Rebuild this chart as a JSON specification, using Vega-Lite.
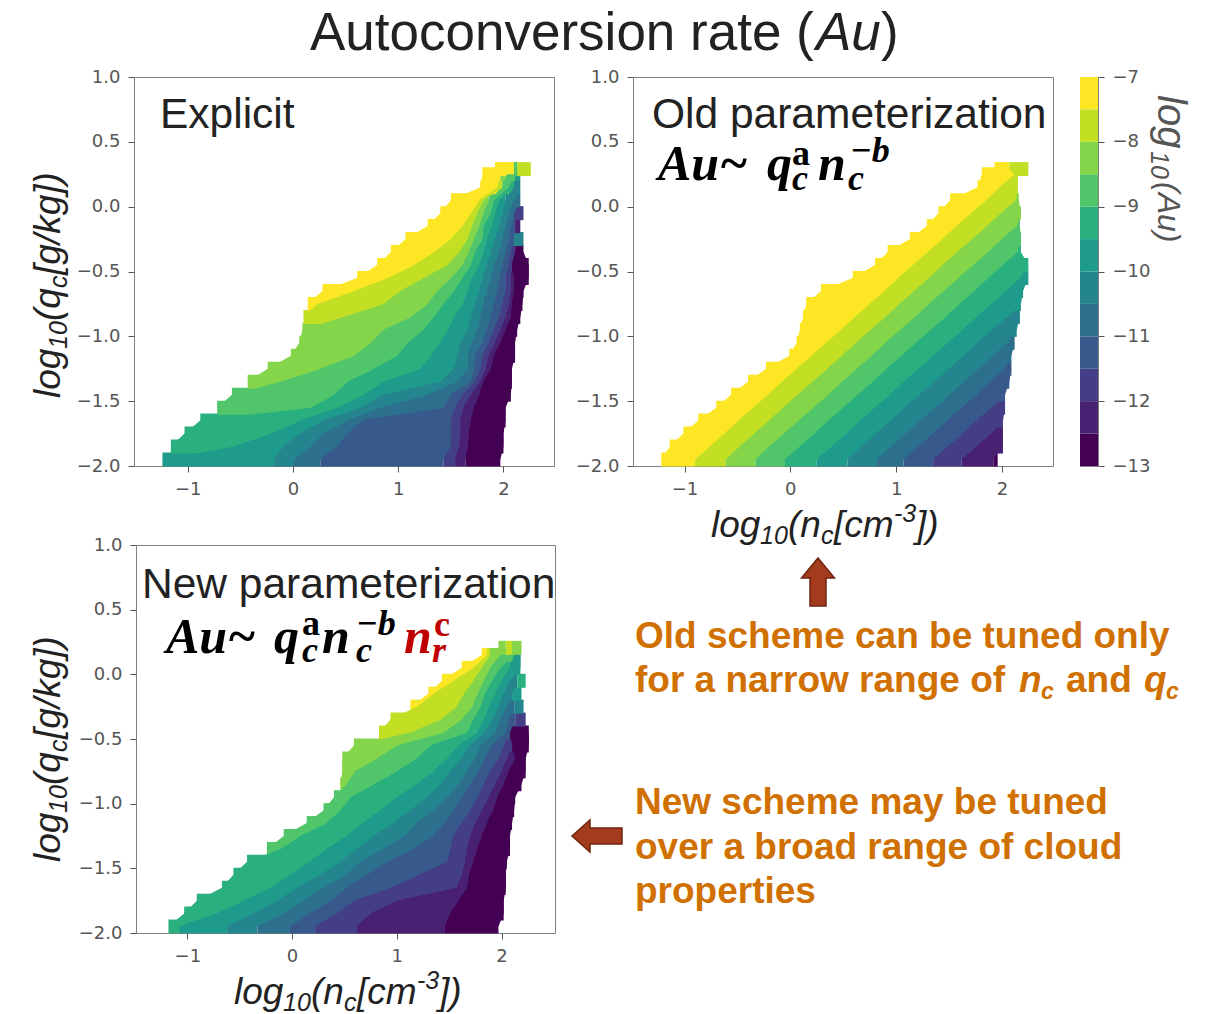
{"$schema":"https://vega.github.io/schema/vega-lite/v6.json","padding":{"left":30,"top":8,"right":0,"bottom":0},"background":"white","bounds":"flush","spacing":468,"config":{"view":{"stroke":"#808080"},"axis":{"grid":false,"title":null,"labelFont":"DejaVu Sans","labelFontSize":18,"labelColor":"#555","tickColor":"#555","tickSize":6,"labelPadding":8,"domain":false}},
"datasets":{"p1":[
{"q":-1.95,"a":-1.24,"b":-0.18,"v":-10},{"q":-1.95,"a":-0.18,"b":0.01,"v":-10.5},{"q":-1.95,"a":0.01,"b":0.26,"v":-11},{"q":-1.95,"a":0.26,"b":1.43,"v":-11.5},{"q":-1.95,"a":1.43,"b":1.54,"v":-12},{"q":-1.95,"a":1.54,"b":1.64,"v":-12.5},{"q":-1.95,"a":1.64,"b":1.97,"v":-13},
{"q":-1.85,"a":-1.16,"b":-0.56,"v":-9.5},{"q":-1.85,"a":-0.56,"b":-0.09,"v":-10},{"q":-1.85,"a":-0.09,"b":0.17,"v":-10.5},{"q":-1.85,"a":0.17,"b":0.42,"v":-11},{"q":-1.85,"a":0.42,"b":1.5,"v":-11.5},{"q":-1.85,"a":1.5,"b":1.58,"v":-12},{"q":-1.85,"a":1.58,"b":1.66,"v":-12.5},{"q":-1.85,"a":1.66,"b":2,"v":-13},
{"q":-1.75,"a":-1.03,"b":-0.21,"v":-9.5},{"q":-1.75,"a":-0.21,"b":0.07,"v":-10},{"q":-1.75,"a":0.07,"b":0.29,"v":-10.5},{"q":-1.75,"a":0.29,"b":0.52,"v":-11},{"q":-1.75,"a":0.52,"b":1.5,"v":-11.5},{"q":-1.75,"a":1.5,"b":1.59,"v":-12},{"q":-1.75,"a":1.59,"b":1.67,"v":-12.5},{"q":-1.75,"a":1.67,"b":2,"v":-13},
{"q":-1.65,"a":-0.88,"b":0.07,"v":-9.5},{"q":-1.65,"a":0.07,"b":0.29,"v":-10},{"q":-1.65,"a":0.29,"b":0.52,"v":-10.5},{"q":-1.65,"a":0.52,"b":0.66,"v":-11},{"q":-1.65,"a":0.66,"b":1.5,"v":-11.5},{"q":-1.65,"a":1.5,"b":1.59,"v":-12},{"q":-1.65,"a":1.59,"b":1.69,"v":-12.5},{"q":-1.65,"a":1.69,"b":2.02,"v":-13},
{"q":-1.55,"a":-0.72,"b":0.17,"v":-9},{"q":-1.55,"a":0.17,"b":0.42,"v":-9.5},{"q":-1.55,"a":0.42,"b":0.64,"v":-10},{"q":-1.55,"a":0.64,"b":0.83,"v":-10.5},{"q":-1.55,"a":0.83,"b":1.43,"v":-11},{"q":-1.55,"a":1.43,"b":1.54,"v":-11.5},{"q":-1.55,"a":1.54,"b":1.62,"v":-12},{"q":-1.55,"a":1.62,"b":1.72,"v":-12.5},{"q":-1.55,"a":1.72,"b":2.02,"v":-13},
{"q":-1.45,"a":-0.58,"b":0.39,"v":-9},{"q":-1.45,"a":0.39,"b":0.67,"v":-9.5},{"q":-1.45,"a":0.67,"b":0.86,"v":-10},{"q":-1.45,"a":0.86,"b":1.28,"v":-10.5},{"q":-1.45,"a":1.28,"b":1.5,"v":-11},{"q":-1.45,"a":1.5,"b":1.61,"v":-11.5},{"q":-1.45,"a":1.61,"b":1.69,"v":-12},{"q":-1.45,"a":1.69,"b":1.77,"v":-12.5},{"q":-1.45,"a":1.77,"b":2.07,"v":-13},
{"q":-1.35,"a":-0.43,"b":-0.12,"v":-8.5},{"q":-1.35,"a":-0.12,"b":0.52,"v":-9},{"q":-1.35,"a":0.52,"b":0.86,"v":-9.5},{"q":-1.35,"a":0.86,"b":1.4,"v":-10},{"q":-1.35,"a":1.4,"b":1.56,"v":-10.5},{"q":-1.35,"a":1.56,"b":1.69,"v":-11},{"q":-1.35,"a":1.69,"b":1.73,"v":-11.5},{"q":-1.35,"a":1.73,"b":1.78,"v":-12},{"q":-1.35,"a":1.78,"b":1.81,"v":-12.5},{"q":-1.35,"a":1.81,"b":2.08,"v":-13},
{"q":-1.25,"a":-0.24,"b":0.26,"v":-8.5},{"q":-1.25,"a":0.26,"b":0.77,"v":-9},{"q":-1.25,"a":0.77,"b":1.21,"v":-9.5},{"q":-1.25,"a":1.21,"b":1.53,"v":-10},{"q":-1.25,"a":1.53,"b":1.66,"v":-10.5},{"q":-1.25,"a":1.66,"b":1.72,"v":-11},{"q":-1.25,"a":1.72,"b":1.78,"v":-11.5},{"q":-1.25,"a":1.78,"b":1.83,"v":-12},{"q":-1.25,"a":1.83,"b":1.88,"v":-12.5},{"q":-1.25,"a":1.88,"b":2.08,"v":-13},
{"q":-1.15,"a":-0.02,"b":0.58,"v":-8.5},{"q":-1.15,"a":0.58,"b":0.99,"v":-9},{"q":-1.15,"a":0.99,"b":1.31,"v":-9.5},{"q":-1.15,"a":1.31,"b":1.56,"v":-10},{"q":-1.15,"a":1.56,"b":1.66,"v":-10.5},{"q":-1.15,"a":1.66,"b":1.73,"v":-11},{"q":-1.15,"a":1.73,"b":1.8,"v":-11.5},{"q":-1.15,"a":1.8,"b":1.86,"v":-12},{"q":-1.15,"a":1.86,"b":1.91,"v":-12.5},{"q":-1.15,"a":1.91,"b":2.11,"v":-13},
{"q":-1.05,"a":0.06,"b":0.74,"v":-8.5},{"q":-1.05,"a":0.74,"b":1.09,"v":-9},{"q":-1.05,"a":1.09,"b":1.4,"v":-9.5},{"q":-1.05,"a":1.4,"b":1.59,"v":-10},{"q":-1.05,"a":1.59,"b":1.7,"v":-10.5},{"q":-1.05,"a":1.7,"b":1.8,"v":-11},{"q":-1.05,"a":1.8,"b":1.86,"v":-11.5},{"q":-1.05,"a":1.86,"b":1.92,"v":-12},{"q":-1.05,"a":1.92,"b":1.97,"v":-12.5},{"q":-1.05,"a":1.97,"b":2.11,"v":-13},
{"q":-0.95,"a":0.09,"b":0.86,"v":-8.5},{"q":-0.95,"a":0.86,"b":1.24,"v":-9},{"q":-0.95,"a":1.24,"b":1.47,"v":-9.5},{"q":-0.95,"a":1.47,"b":1.66,"v":-10},{"q":-0.95,"a":1.66,"b":1.75,"v":-10.5},{"q":-0.95,"a":1.75,"b":1.84,"v":-11},{"q":-0.95,"a":1.84,"b":1.91,"v":-11.5},{"q":-0.95,"a":1.91,"b":1.97,"v":-12},{"q":-0.95,"a":1.97,"b":2.02,"v":-12.5},{"q":-0.95,"a":2.02,"b":2.13,"v":-13},
{"q":-0.85,"a":0.1,"b":0.48,"v":-8},{"q":-0.85,"a":0.48,"b":1.12,"v":-8.5},{"q":-0.85,"a":1.12,"b":1.34,"v":-9},{"q":-0.85,"a":1.34,"b":1.53,"v":-9.5},{"q":-0.85,"a":1.53,"b":1.69,"v":-10},{"q":-0.85,"a":1.69,"b":1.78,"v":-10.5},{"q":-0.85,"a":1.78,"b":1.88,"v":-11},{"q":-0.85,"a":1.88,"b":1.96,"v":-11.5},{"q":-0.85,"a":1.96,"b":2.02,"v":-12},{"q":-0.85,"a":2.02,"b":2.07,"v":-12.5},{"q":-0.85,"a":2.07,"b":2.16,"v":-13},
{"q":-0.75,"a":0.14,"b":0.23,"v":-7.5},{"q":-0.75,"a":0.23,"b":0.86,"v":-8},{"q":-0.75,"a":0.86,"b":1.28,"v":-8.5},{"q":-0.75,"a":1.28,"b":1.43,"v":-9},{"q":-0.75,"a":1.43,"b":1.61,"v":-9.5},{"q":-0.75,"a":1.61,"b":1.73,"v":-10},{"q":-0.75,"a":1.73,"b":1.81,"v":-10.5},{"q":-0.75,"a":1.81,"b":1.91,"v":-11},{"q":-0.75,"a":1.91,"b":1.99,"v":-11.5},{"q":-0.75,"a":1.99,"b":2.05,"v":-12},{"q":-0.75,"a":2.05,"b":2.08,"v":-12.5},{"q":-0.75,"a":2.08,"b":2.18,"v":-13},
{"q":-0.65,"a":0.28,"b":0.58,"v":-7.5},{"q":-0.65,"a":0.58,"b":1.02,"v":-8},{"q":-0.65,"a":1.02,"b":1.37,"v":-8.5},{"q":-0.65,"a":1.37,"b":1.53,"v":-9},{"q":-0.65,"a":1.53,"b":1.66,"v":-9.5},{"q":-0.65,"a":1.66,"b":1.77,"v":-10},{"q":-0.65,"a":1.77,"b":1.84,"v":-10.5},{"q":-0.65,"a":1.84,"b":1.94,"v":-11},{"q":-0.65,"a":1.94,"b":2.02,"v":-11.5},{"q":-0.65,"a":2.02,"b":2.07,"v":-12},{"q":-0.65,"a":2.07,"b":2.1,"v":-12.5},{"q":-0.65,"a":2.1,"b":2.19,"v":-13},
{"q":-0.55,"a":0.61,"b":0.9,"v":-7.5},{"q":-0.55,"a":0.9,"b":1.24,"v":-8},{"q":-0.55,"a":1.24,"b":1.5,"v":-8.5},{"q":-0.55,"a":1.5,"b":1.61,"v":-9},{"q":-0.55,"a":1.61,"b":1.7,"v":-9.5},{"q":-0.55,"a":1.7,"b":1.8,"v":-10},{"q":-0.55,"a":1.8,"b":1.88,"v":-10.5},{"q":-0.55,"a":1.88,"b":1.96,"v":-11},{"q":-0.55,"a":1.96,"b":2.02,"v":-11.5},{"q":-0.55,"a":2.02,"b":2.07,"v":-12},{"q":-0.55,"a":2.07,"b":2.1,"v":-12.5},{"q":-0.55,"a":2.1,"b":2.24,"v":-13},
{"q":-0.45,"a":0.8,"b":1.15,"v":-7.5},{"q":-0.45,"a":1.15,"b":1.47,"v":-8},{"q":-0.45,"a":1.47,"b":1.61,"v":-8.5},{"q":-0.45,"a":1.61,"b":1.69,"v":-9},{"q":-0.45,"a":1.69,"b":1.77,"v":-9.5},{"q":-0.45,"a":1.77,"b":1.84,"v":-10},{"q":-0.45,"a":1.84,"b":1.91,"v":-10.5},{"q":-0.45,"a":1.91,"b":1.99,"v":-11},{"q":-0.45,"a":1.99,"b":2.05,"v":-11.5},{"q":-0.45,"a":2.05,"b":2.08,"v":-12},{"q":-0.45,"a":2.08,"b":2.24,"v":-13},
{"q":-0.35,"a":0.93,"b":1.34,"v":-7.5},{"q":-0.35,"a":1.34,"b":1.58,"v":-8},{"q":-0.35,"a":1.58,"b":1.67,"v":-8.5},{"q":-0.35,"a":1.67,"b":1.73,"v":-9},{"q":-0.35,"a":1.73,"b":1.81,"v":-9.5},{"q":-0.35,"a":1.81,"b":1.88,"v":-10},{"q":-0.35,"a":1.88,"b":1.96,"v":-10.5},{"q":-0.35,"a":1.96,"b":2.02,"v":-11},{"q":-0.35,"a":2.02,"b":2.07,"v":-11.5},{"q":-0.35,"a":2.07,"b":2.11,"v":-12},{"q":-0.35,"a":2.11,"b":2.19,"v":-13},
{"q":-0.25,"a":1.07,"b":1.5,"v":-7.5},{"q":-0.25,"a":1.5,"b":1.66,"v":-8},{"q":-0.25,"a":1.66,"b":1.72,"v":-8.5},{"q":-0.25,"a":1.72,"b":1.8,"v":-9},{"q":-0.25,"a":1.8,"b":1.84,"v":-9.5},{"q":-0.25,"a":1.84,"b":1.92,"v":-10},{"q":-0.25,"a":1.92,"b":1.99,"v":-10.5},{"q":-0.25,"a":1.99,"b":2.05,"v":-11},{"q":-0.25,"a":2.05,"b":2.1,"v":-11.5},{"q":-0.25,"a":2.1,"b":2.19,"v":-10.5,"n":1},
{"q":-0.15,"a":1.28,"b":1.61,"v":-7.5},{"q":-0.15,"a":1.61,"b":1.7,"v":-8},{"q":-0.15,"a":1.7,"b":1.77,"v":-8.5},{"q":-0.15,"a":1.77,"b":1.81,"v":-9},{"q":-0.15,"a":1.81,"b":1.89,"v":-9.5},{"q":-0.15,"a":1.89,"b":1.96,"v":-10},{"q":-0.15,"a":1.96,"b":2.02,"v":-10.5},{"q":-0.15,"a":2.02,"b":2.07,"v":-11},{"q":-0.15,"a":2.07,"b":2.11,"v":-11.5},{"q":-0.15,"a":2.11,"b":2.16,"v":-12.5,"n":1},
{"q":-0.05,"a":1.4,"b":1.69,"v":-7.5},{"q":-0.05,"a":1.69,"b":1.75,"v":-8},{"q":-0.05,"a":1.75,"b":1.81,"v":-8.5},{"q":-0.05,"a":1.81,"b":1.88,"v":-9},{"q":-0.05,"a":1.88,"b":1.92,"v":-9.5},{"q":-0.05,"a":1.92,"b":1.99,"v":-10},{"q":-0.05,"a":1.99,"b":2.05,"v":-10.5},{"q":-0.05,"a":2.05,"b":2.1,"v":-11},{"q":-0.05,"a":2.1,"b":2.19,"v":-12,"n":1},
{"q":0.05,"a":1.5,"b":1.77,"v":-7.5},{"q":0.05,"a":1.77,"b":1.81,"v":-8},{"q":0.05,"a":1.81,"b":1.86,"v":-8.5},{"q":0.05,"a":1.86,"b":1.91,"v":-9},{"q":0.05,"a":1.91,"b":1.96,"v":-9.5},{"q":0.05,"a":1.96,"b":2.02,"v":-10},{"q":0.05,"a":2.02,"b":2.1,"v":-10.5},{"q":0.05,"a":2.1,"b":2.16,"v":-11},
{"q":0.15,"a":1.78,"b":1.94,"v":-7.5},{"q":0.15,"a":1.94,"b":1.99,"v":-8},{"q":0.15,"a":1.99,"b":2.05,"v":-9},{"q":0.15,"a":2.05,"b":2.1,"v":-9.5},{"q":0.15,"a":2.1,"b":2.16,"v":-10.5},
{"q":0.25,"a":1.8,"b":1.97,"v":-7.5},{"q":0.25,"a":1.97,"b":2.03,"v":-8.5,"n":1},{"q":0.25,"a":2.03,"b":2.11,"v":-9},{"q":0.25,"a":2.11,"b":2.16,"v":-10,"n":1},
{"q":0.29,"a":1.92,"b":2.1,"v":-7.5},{"q":0.29,"a":2.1,"b":2.13,"v":-9,"n":1},{"q":0.29,"a":2.13,"b":2.26,"v":-8,"n":1}],
"p2":[
{"q":-1.95,"a":-1.22,"b":-0.9,"v":-7.5},{"q":-1.95,"a":-0.9,"b":-0.61,"v":-8},{"q":-1.95,"a":-0.61,"b":-0.33,"v":-8.5},{"q":-1.95,"a":-0.33,"b":-0.05,"v":-9},{"q":-1.95,"a":-0.05,"b":0.25,"v":-9.5},{"q":-1.95,"a":0.25,"b":0.54,"v":-10},{"q":-1.95,"a":0.54,"b":0.82,"v":-10.5},{"q":-1.95,"a":0.82,"b":1.07,"v":-11},{"q":-1.95,"a":1.07,"b":1.35,"v":-11.5},{"q":-1.95,"a":1.35,"b":1.62,"v":-12},{"q":-1.95,"a":1.62,"b":1.92,"v":-12.5},{"q":-1.95,"a":1.92,"b":1.96,"v":-13},
{"q":-1.85,"a":-1.14,"b":-0.76,"v":-7.5},{"q":-1.85,"a":-0.76,"b":-0.48,"v":-8},{"q":-1.85,"a":-0.48,"b":-0.2,"v":-8.5},{"q":-1.85,"a":-0.2,"b":0.09,"v":-9},{"q":-1.85,"a":0.09,"b":0.39,"v":-9.5},{"q":-1.85,"a":0.39,"b":0.67,"v":-10},{"q":-1.85,"a":0.67,"b":0.95,"v":-10.5},{"q":-1.85,"a":0.95,"b":1.21,"v":-11},{"q":-1.85,"a":1.21,"b":1.49,"v":-11.5},{"q":-1.85,"a":1.49,"b":1.76,"v":-12},{"q":-1.85,"a":1.76,"b":2.01,"v":-12.5},
{"q":-1.75,"a":-1.01,"b":-0.62,"v":-7.5},{"q":-1.75,"a":-0.62,"b":-0.34,"v":-8},{"q":-1.75,"a":-0.34,"b":-0.06,"v":-8.5},{"q":-1.75,"a":-0.06,"b":0.23,"v":-9},{"q":-1.75,"a":0.23,"b":0.53,"v":-9.5},{"q":-1.75,"a":0.53,"b":0.81,"v":-10},{"q":-1.75,"a":0.81,"b":1.09,"v":-10.5},{"q":-1.75,"a":1.09,"b":1.35,"v":-11},{"q":-1.75,"a":1.35,"b":1.63,"v":-11.5},{"q":-1.75,"a":1.63,"b":1.9,"v":-12},{"q":-1.75,"a":1.9,"b":2.01,"v":-12.5},
{"q":-1.65,"a":-0.87,"b":-0.49,"v":-7.5},{"q":-1.65,"a":-0.49,"b":-0.2,"v":-8},{"q":-1.65,"a":-0.2,"b":0.08,"v":-8.5},{"q":-1.65,"a":0.08,"b":0.36,"v":-9},{"q":-1.65,"a":0.36,"b":0.66,"v":-9.5},{"q":-1.65,"a":0.66,"b":0.95,"v":-10},{"q":-1.65,"a":0.95,"b":1.23,"v":-10.5},{"q":-1.65,"a":1.23,"b":1.48,"v":-11},{"q":-1.65,"a":1.48,"b":1.76,"v":-11.5},{"q":-1.65,"a":1.76,"b":2.01,"v":-12},
{"q":-1.55,"a":-0.7,"b":-0.35,"v":-7.5},{"q":-1.55,"a":-0.35,"b":-0.07,"v":-8},{"q":-1.55,"a":-0.07,"b":0.22,"v":-8.5},{"q":-1.55,"a":0.22,"b":0.5,"v":-9},{"q":-1.55,"a":0.5,"b":0.8,"v":-9.5},{"q":-1.55,"a":0.8,"b":1.08,"v":-10},{"q":-1.55,"a":1.08,"b":1.37,"v":-10.5},{"q":-1.55,"a":1.37,"b":1.62,"v":-11},{"q":-1.55,"a":1.62,"b":1.9,"v":-11.5},{"q":-1.55,"a":1.9,"b":2.03,"v":-12},
{"q":-1.45,"a":-0.56,"b":-0.21,"v":-7.5},{"q":-1.45,"a":-0.21,"b":0.07,"v":-8},{"q":-1.45,"a":0.07,"b":0.36,"v":-8.5},{"q":-1.45,"a":0.36,"b":0.64,"v":-9},{"q":-1.45,"a":0.64,"b":0.94,"v":-9.5},{"q":-1.45,"a":0.94,"b":1.22,"v":-10},{"q":-1.45,"a":1.22,"b":1.51,"v":-10.5},{"q":-1.45,"a":1.51,"b":1.76,"v":-11},{"q":-1.45,"a":1.76,"b":2.03,"v":-11.5},
{"q":-1.35,"a":-0.4,"b":-0.08,"v":-7.5},{"q":-1.35,"a":-0.08,"b":0.21,"v":-8},{"q":-1.35,"a":0.21,"b":0.49,"v":-8.5},{"q":-1.35,"a":0.49,"b":0.78,"v":-9},{"q":-1.35,"a":0.78,"b":1.07,"v":-9.5},{"q":-1.35,"a":1.07,"b":1.36,"v":-10},{"q":-1.35,"a":1.36,"b":1.64,"v":-10.5},{"q":-1.35,"a":1.64,"b":1.89,"v":-11},{"q":-1.35,"a":1.89,"b":2.07,"v":-11.5},
{"q":-1.25,"a":-0.23,"b":0.06,"v":-7.5},{"q":-1.25,"a":0.06,"b":0.35,"v":-8},{"q":-1.25,"a":0.35,"b":0.63,"v":-8.5},{"q":-1.25,"a":0.63,"b":0.91,"v":-9},{"q":-1.25,"a":0.91,"b":1.21,"v":-9.5},{"q":-1.25,"a":1.21,"b":1.5,"v":-10},{"q":-1.25,"a":1.5,"b":1.78,"v":-10.5},{"q":-1.25,"a":1.78,"b":2.03,"v":-11},{"q":-1.25,"a":2.03,"b":2.09,"v":-11.5},
{"q":-1.15,"a":-0.01,"b":0.2,"v":-7.5},{"q":-1.15,"a":0.2,"b":0.49,"v":-8},{"q":-1.15,"a":0.49,"b":0.77,"v":-8.5},{"q":-1.15,"a":0.77,"b":1.05,"v":-9},{"q":-1.15,"a":1.05,"b":1.35,"v":-9.5},{"q":-1.15,"a":1.35,"b":1.64,"v":-10},{"q":-1.15,"a":1.64,"b":1.92,"v":-10.5},{"q":-1.15,"a":1.92,"b":2.09,"v":-11},
{"q":-1.05,"a":0.06,"b":0.34,"v":-7.5},{"q":-1.05,"a":0.34,"b":0.62,"v":-8},{"q":-1.05,"a":0.62,"b":0.9,"v":-8.5},{"q":-1.05,"a":0.9,"b":1.19,"v":-9},{"q":-1.05,"a":1.19,"b":1.49,"v":-9.5},{"q":-1.05,"a":1.49,"b":1.77,"v":-10},{"q":-1.05,"a":1.77,"b":2.05,"v":-10.5},{"q":-1.05,"a":2.05,"b":2.12,"v":-11},
{"q":-0.95,"a":0.09,"b":0.48,"v":-7.5},{"q":-0.95,"a":0.48,"b":0.76,"v":-8},{"q":-0.95,"a":0.76,"b":1.04,"v":-8.5},{"q":-0.95,"a":1.04,"b":1.33,"v":-9},{"q":-0.95,"a":1.33,"b":1.63,"v":-9.5},{"q":-0.95,"a":1.63,"b":1.91,"v":-10},{"q":-0.95,"a":1.91,"b":2.14,"v":-10.5},
{"q":-0.85,"a":0.12,"b":0.61,"v":-7.5},{"q":-0.85,"a":0.61,"b":0.9,"v":-8},{"q":-0.85,"a":0.9,"b":1.18,"v":-8.5},{"q":-0.85,"a":1.18,"b":1.47,"v":-9},{"q":-0.85,"a":1.47,"b":1.76,"v":-9.5},{"q":-0.85,"a":1.76,"b":2.05,"v":-10},{"q":-0.85,"a":2.05,"b":2.17,"v":-10.5},
{"q":-0.75,"a":0.15,"b":0.75,"v":-7.5},{"q":-0.75,"a":0.75,"b":1.03,"v":-8},{"q":-0.75,"a":1.03,"b":1.31,"v":-8.5},{"q":-0.75,"a":1.31,"b":1.6,"v":-9},{"q":-0.75,"a":1.6,"b":1.9,"v":-9.5},{"q":-0.75,"a":1.9,"b":2.18,"v":-10},
{"q":-0.65,"a":0.29,"b":0.89,"v":-7.5},{"q":-0.65,"a":0.89,"b":1.17,"v":-8},{"q":-0.65,"a":1.17,"b":1.45,"v":-8.5},{"q":-0.65,"a":1.45,"b":1.74,"v":-9},{"q":-0.65,"a":1.74,"b":2.04,"v":-9.5},{"q":-0.65,"a":2.04,"b":2.2,"v":-10},
{"q":-0.55,"a":0.59,"b":1.02,"v":-7.5},{"q":-0.55,"a":1.02,"b":1.31,"v":-8},{"q":-0.55,"a":1.31,"b":1.59,"v":-8.5},{"q":-0.55,"a":1.59,"b":1.87,"v":-9},{"q":-0.55,"a":1.87,"b":2.17,"v":-9.5},{"q":-0.55,"a":2.17,"b":2.25,"v":-10},
{"q":-0.45,"a":0.8,"b":1.16,"v":-7.5},{"q":-0.45,"a":1.16,"b":1.44,"v":-8},{"q":-0.45,"a":1.44,"b":1.73,"v":-8.5},{"q":-0.45,"a":1.73,"b":2.01,"v":-9},{"q":-0.45,"a":2.01,"b":2.25,"v":-9.5},
{"q":-0.35,"a":0.92,"b":1.3,"v":-7.5},{"q":-0.35,"a":1.3,"b":1.58,"v":-8},{"q":-0.35,"a":1.58,"b":1.87,"v":-8.5},{"q":-0.35,"a":1.87,"b":2.15,"v":-9},{"q":-0.35,"a":2.15,"b":2.18,"v":-9.5},
{"q":-0.25,"a":1.13,"b":1.44,"v":-7.5},{"q":-0.25,"a":1.44,"b":1.72,"v":-8},{"q":-0.25,"a":1.72,"b":2,"v":-8.5},{"q":-0.25,"a":2,"b":2.18,"v":-9},
{"q":-0.15,"a":1.29,"b":1.57,"v":-7.5},{"q":-0.15,"a":1.57,"b":1.86,"v":-8},{"q":-0.15,"a":1.86,"b":2.14,"v":-8.5},{"q":-0.15,"a":2.14,"b":2.17,"v":-9},
{"q":-0.05,"a":1.4,"b":1.71,"v":-7.5},{"q":-0.05,"a":1.71,"b":1.99,"v":-8},{"q":-0.05,"a":1.99,"b":2.18,"v":-8.5},
{"q":0.05,"a":1.51,"b":1.85,"v":-7.5},{"q":0.05,"a":1.85,"b":2.13,"v":-8},{"q":0.05,"a":2.13,"b":2.16,"v":-8.5},
{"q":0.15,"a":1.77,"b":1.98,"v":-7.5},{"q":0.15,"a":1.98,"b":2.15,"v":-8},
{"q":0.25,"a":1.81,"b":2.12,"v":-7.5},{"q":0.25,"a":2.12,"b":2.15,"v":-8},
{"q":0.29,"a":1.93,"b":2.07,"v":-7.5},{"q":0.29,"a":2.07,"b":2.25,"v":-8}],
"p3":[
{"q":-1.95,"a":-1.18,"b":-1.08,"v":-9.5},{"q":-1.95,"a":-1.08,"b":-0.62,"v":-10},{"q":-1.95,"a":-0.62,"b":-0.33,"v":-10.5},{"q":-1.95,"a":-0.33,"b":-0.02,"v":-11},{"q":-1.95,"a":-0.02,"b":0.22,"v":-11.5},{"q":-1.95,"a":0.22,"b":0.62,"v":-12},{"q":-1.95,"a":0.62,"b":1.46,"v":-12.5},{"q":-1.95,"a":1.46,"b":1.97,"v":-13},
{"q":-1.85,"a":-1.03,"b":-0.72,"v":-9.5},{"q":-1.85,"a":-0.72,"b":-0.37,"v":-10},{"q":-1.85,"a":-0.37,"b":-0.08,"v":-10.5},{"q":-1.85,"a":-0.08,"b":0.17,"v":-11},{"q":-1.85,"a":0.17,"b":0.43,"v":-11.5},{"q":-1.85,"a":0.43,"b":0.75,"v":-12},{"q":-1.85,"a":0.75,"b":1.51,"v":-12.5},{"q":-1.85,"a":1.51,"b":2.02,"v":-13},
{"q":-1.75,"a":-0.91,"b":-0.46,"v":-9.5},{"q":-1.75,"a":-0.46,"b":-0.14,"v":-10},{"q":-1.75,"a":-0.14,"b":0.11,"v":-10.5},{"q":-1.75,"a":0.11,"b":0.37,"v":-11},{"q":-1.75,"a":0.37,"b":0.59,"v":-11.5},{"q":-1.75,"a":0.59,"b":1,"v":-12},{"q":-1.75,"a":1,"b":1.59,"v":-12.5},{"q":-1.75,"a":1.59,"b":2.02,"v":-13},
{"q":-1.65,"a":-0.67,"b":-0.21,"v":-9.5},{"q":-1.65,"a":-0.21,"b":0.05,"v":-10},{"q":-1.65,"a":0.05,"b":0.3,"v":-10.5},{"q":-1.65,"a":0.3,"b":0.52,"v":-11},{"q":-1.65,"a":0.52,"b":0.94,"v":-11.5},{"q":-1.65,"a":0.94,"b":1.57,"v":-12},{"q":-1.65,"a":1.57,"b":1.67,"v":-12.5},{"q":-1.65,"a":1.67,"b":2.04,"v":-13},
{"q":-1.55,"a":-0.56,"b":-0.02,"v":-9.5},{"q":-1.55,"a":-0.02,"b":0.27,"v":-10},{"q":-1.55,"a":0.27,"b":0.52,"v":-10.5},{"q":-1.55,"a":0.52,"b":0.72,"v":-11},{"q":-1.55,"a":0.72,"b":1.22,"v":-11.5},{"q":-1.55,"a":1.22,"b":1.62,"v":-12},{"q":-1.55,"a":1.62,"b":1.69,"v":-12.5},{"q":-1.55,"a":1.69,"b":2.04,"v":-13},
{"q":-1.45,"a":-0.43,"b":0.17,"v":-9.5},{"q":-1.45,"a":0.17,"b":0.46,"v":-10},{"q":-1.45,"a":0.46,"b":0.65,"v":-10.5},{"q":-1.45,"a":0.65,"b":0.91,"v":-11},{"q":-1.45,"a":0.91,"b":1.48,"v":-11.5},{"q":-1.45,"a":1.48,"b":1.65,"v":-12},{"q":-1.45,"a":1.65,"b":1.73,"v":-12.5},{"q":-1.45,"a":1.73,"b":2.05,"v":-13},
{"q":-1.35,"a":-0.24,"b":-0.11,"v":-9},{"q":-1.35,"a":-0.11,"b":0.33,"v":-9.5},{"q":-1.35,"a":0.33,"b":0.62,"v":-10},{"q":-1.35,"a":0.62,"b":0.87,"v":-10.5},{"q":-1.35,"a":0.87,"b":1.16,"v":-11},{"q":-1.35,"a":1.16,"b":1.51,"v":-11.5},{"q":-1.35,"a":1.51,"b":1.67,"v":-12},{"q":-1.35,"a":1.67,"b":1.77,"v":-12.5},{"q":-1.35,"a":1.77,"b":2.08,"v":-13},
{"q":-1.25,"a":-0.08,"b":0.08,"v":-9},{"q":-1.25,"a":0.08,"b":0.52,"v":-9.5},{"q":-1.25,"a":0.52,"b":0.78,"v":-10},{"q":-1.25,"a":0.78,"b":1.07,"v":-10.5},{"q":-1.25,"a":1.07,"b":1.35,"v":-11},{"q":-1.25,"a":1.35,"b":1.54,"v":-11.5},{"q":-1.25,"a":1.54,"b":1.7,"v":-12},{"q":-1.25,"a":1.7,"b":1.81,"v":-12.5},{"q":-1.25,"a":1.81,"b":2.08,"v":-13},
{"q":-1.15,"a":0.14,"b":0.33,"v":-9},{"q":-1.15,"a":0.33,"b":0.68,"v":-9.5},{"q":-1.15,"a":0.68,"b":0.97,"v":-10},{"q":-1.15,"a":0.97,"b":1.19,"v":-10.5},{"q":-1.15,"a":1.19,"b":1.46,"v":-11},{"q":-1.15,"a":1.46,"b":1.62,"v":-11.5},{"q":-1.15,"a":1.62,"b":1.75,"v":-12},{"q":-1.15,"a":1.75,"b":1.86,"v":-12.5},{"q":-1.15,"a":1.86,"b":2.1,"v":-13},
{"q":-1.05,"a":0.3,"b":0.46,"v":-9},{"q":-1.05,"a":0.46,"b":0.84,"v":-9.5},{"q":-1.05,"a":0.84,"b":1.13,"v":-10},{"q":-1.05,"a":1.13,"b":1.35,"v":-10.5},{"q":-1.05,"a":1.35,"b":1.54,"v":-11},{"q":-1.05,"a":1.54,"b":1.7,"v":-11.5},{"q":-1.05,"a":1.7,"b":1.81,"v":-12},{"q":-1.05,"a":1.81,"b":1.92,"v":-12.5},{"q":-1.05,"a":1.92,"b":2.12,"v":-13},
{"q":-0.95,"a":0.4,"b":0.56,"v":-9},{"q":-0.95,"a":0.56,"b":1,"v":-9.5},{"q":-0.95,"a":1,"b":1.29,"v":-10},{"q":-0.95,"a":1.29,"b":1.48,"v":-10.5},{"q":-0.95,"a":1.48,"b":1.62,"v":-11},{"q":-0.95,"a":1.62,"b":1.77,"v":-11.5},{"q":-0.95,"a":1.77,"b":1.88,"v":-12},{"q":-0.95,"a":1.88,"b":1.96,"v":-12.5},{"q":-0.95,"a":1.96,"b":2.13,"v":-13},
{"q":-0.85,"a":0.46,"b":0.52,"v":-8.5},{"q":-0.85,"a":0.52,"b":0.78,"v":-9},{"q":-0.85,"a":0.78,"b":1.19,"v":-9.5},{"q":-0.85,"a":1.19,"b":1.42,"v":-10},{"q":-0.85,"a":1.42,"b":1.59,"v":-10.5},{"q":-0.85,"a":1.59,"b":1.7,"v":-11},{"q":-0.85,"a":1.7,"b":1.83,"v":-11.5},{"q":-0.85,"a":1.83,"b":1.94,"v":-12},{"q":-0.85,"a":1.94,"b":2.02,"v":-12.5},{"q":-0.85,"a":2.02,"b":2.19,"v":-13},
{"q":-0.75,"a":0.48,"b":0.6,"v":-8.5},{"q":-0.75,"a":0.6,"b":1,"v":-9},{"q":-0.75,"a":1,"b":1.35,"v":-9.5},{"q":-0.75,"a":1.35,"b":1.51,"v":-10},{"q":-0.75,"a":1.51,"b":1.67,"v":-10.5},{"q":-0.75,"a":1.67,"b":1.78,"v":-11},{"q":-0.75,"a":1.78,"b":1.89,"v":-11.5},{"q":-0.75,"a":1.89,"b":2,"v":-12},{"q":-0.75,"a":2,"b":2.07,"v":-12.5},{"q":-0.75,"a":2.07,"b":2.23,"v":-13},
{"q":-0.65,"a":0.48,"b":0.81,"v":-8.5},{"q":-0.65,"a":0.81,"b":1.19,"v":-9},{"q":-0.65,"a":1.19,"b":1.48,"v":-9.5},{"q":-0.65,"a":1.48,"b":1.62,"v":-10},{"q":-0.65,"a":1.62,"b":1.75,"v":-10.5},{"q":-0.65,"a":1.75,"b":1.84,"v":-11},{"q":-0.65,"a":1.84,"b":1.97,"v":-11.5},{"q":-0.65,"a":1.97,"b":2.05,"v":-12},{"q":-0.65,"a":2.05,"b":2.13,"v":-12.5},{"q":-0.65,"a":2.13,"b":2.23,"v":-13},
{"q":-0.55,"a":0.59,"b":1,"v":-8.5},{"q":-0.55,"a":1,"b":1.32,"v":-9},{"q":-0.55,"a":1.32,"b":1.59,"v":-9.5},{"q":-0.55,"a":1.59,"b":1.7,"v":-10},{"q":-0.55,"a":1.7,"b":1.8,"v":-10.5},{"q":-0.55,"a":1.8,"b":1.91,"v":-11},{"q":-0.55,"a":1.91,"b":2.02,"v":-11.5},{"q":-0.55,"a":2.02,"b":2.1,"v":-12},{"q":-0.55,"a":2.1,"b":2.26,"v":-13},
{"q":-0.45,"a":0.83,"b":1.13,"v":-8},{"q":-0.45,"a":1.13,"b":1.45,"v":-8.5},{"q":-0.45,"a":1.45,"b":1.67,"v":-9},{"q":-0.45,"a":1.67,"b":1.77,"v":-9.5},{"q":-0.45,"a":1.77,"b":1.84,"v":-10},{"q":-0.45,"a":1.84,"b":1.94,"v":-10.5},{"q":-0.45,"a":1.94,"b":2.04,"v":-11},{"q":-0.45,"a":2.04,"b":2.08,"v":-11.5},{"q":-0.45,"a":2.08,"b":2.26,"v":-13},
{"q":-0.35,"a":0.94,"b":1.42,"v":-8},{"q":-0.35,"a":1.42,"b":1.62,"v":-8.5},{"q":-0.35,"a":1.62,"b":1.73,"v":-9},{"q":-0.35,"a":1.73,"b":1.83,"v":-9.5},{"q":-0.35,"a":1.83,"b":1.91,"v":-10},{"q":-0.35,"a":1.91,"b":1.99,"v":-10.5},{"q":-0.35,"a":1.99,"b":2.07,"v":-11},{"q":-0.35,"a":2.07,"b":2.13,"v":-11.5},{"q":-0.35,"a":2.13,"b":2.23,"v":-12,"n":1},
{"q":-0.25,"a":1.13,"b":1.19,"v":-7.5},{"q":-0.25,"a":1.19,"b":1.57,"v":-8},{"q":-0.25,"a":1.57,"b":1.72,"v":-8.5},{"q":-0.25,"a":1.72,"b":1.8,"v":-9},{"q":-0.25,"a":1.8,"b":1.88,"v":-9.5},{"q":-0.25,"a":1.88,"b":1.97,"v":-10},{"q":-0.25,"a":1.97,"b":2.05,"v":-10.5},{"q":-0.25,"a":2.05,"b":2.12,"v":-11},{"q":-0.25,"a":2.12,"b":2.21,"v":-10.5,"n":1},
{"q":-0.15,"a":1.3,"b":1.35,"v":-7.5},{"q":-0.15,"a":1.35,"b":1.64,"v":-8},{"q":-0.15,"a":1.64,"b":1.77,"v":-8.5},{"q":-0.15,"a":1.77,"b":1.84,"v":-9},{"q":-0.15,"a":1.84,"b":1.94,"v":-9.5},{"q":-0.15,"a":1.94,"b":2.02,"v":-10},{"q":-0.15,"a":2.02,"b":2.1,"v":-10.5},{"q":-0.15,"a":2.1,"b":2.19,"v":-10,"n":1},
{"q":-0.05,"a":1.43,"b":1.54,"v":-7.5},{"q":-0.05,"a":1.54,"b":1.73,"v":-8},{"q":-0.05,"a":1.73,"b":1.83,"v":-8.5},{"q":-0.05,"a":1.83,"b":1.91,"v":-9},{"q":-0.05,"a":1.91,"b":2,"v":-9.5},{"q":-0.05,"a":2,"b":2.08,"v":-10},{"q":-0.05,"a":2.08,"b":2.15,"v":-10.5},{"q":-0.05,"a":2.15,"b":2.23,"v":-9.5,"n":1},
{"q":0.05,"a":1.62,"b":1.73,"v":-7.5},{"q":0.05,"a":1.73,"b":1.81,"v":-8},{"q":0.05,"a":1.81,"b":1.89,"v":-8.5},{"q":0.05,"a":1.89,"b":1.99,"v":-9},{"q":0.05,"a":1.99,"b":2.08,"v":-9.5},{"q":0.05,"a":2.08,"b":2.18,"v":-10},
{"q":0.15,"a":1.81,"b":1.86,"v":-7.5},{"q":0.15,"a":1.86,"b":1.89,"v":-8},{"q":0.15,"a":1.89,"b":1.99,"v":-8.5},{"q":0.15,"a":1.99,"b":2.12,"v":-9},{"q":0.15,"a":2.12,"b":2.18,"v":-10},
{"q":0.205,"a":1.97,"b":2.04,"v":-8.5},{"q":0.205,"a":2.04,"b":2.1,"v":-8,"n":1},{"q":0.205,"a":2.1,"b":2.19,"v":-8.5,"n":1}],
"bar":[{"v":-13,"e":-12.5},{"v":-12.5,"e":-12},{"v":-12,"e":-11.5},{"v":-11.5,"e":-11},{"v":-11,"e":-10.5},{"v":-10.5,"e":-10},{"v":-10,"e":-9.5},{"v":-9.5,"e":-9},{"v":-9,"e":-8.5},{"v":-8.5,"e":-8},{"v":-8,"e":-7.5},{"v":-7.5,"e":-7}]},
"vconcat":[
{"hconcat":[
{"width":420,"height":389,"data":{"name":"p1"},"encoding":{"x":{"field":"a","type":"quantitative","scale":{"domain":[-1.51,2.48],"nice":false,"zero":false,"padding":0},"axis":{"values":[-1,0,1,2]}},"x2":{"field":"b"},"y":{"field":"q","type":"quantitative","scale":{"domain":[-2,1],"nice":false,"zero":false,"padding":0},"axis":{"values":[-2,-1.5,-1,-0.5,0,0.5,1],"format":".1f"}},"color":{"field":"v","type":"quantitative","legend":null,"scale":{"type":"threshold","domain":[-12.5,-12,-11.5,-11,-10.5,-10,-9.5,-9,-8.5,-8,-7.5],"range":["#440154","#482173","#433e85","#38598c","#2d708e","#25858e","#1e9b8a","#2ab07f","#51c56a","#85d54a","#c2df23","#fde725"]}}},
"layer":[{"mark":{"type":"bar","orient":"horizontal","size":14}},{"transform":[{"filter":"!datum.n"}],"mark":{"type":"area","orient":"horizontal"},"encoding":{"detail":{"field":"v"}}}]},
{"hconcat":[
{"width":420,"height":389,"data":{"name":"p2"},"encoding":{"x":{"field":"a","type":"quantitative","scale":{"domain":[-1.487,2.483],"nice":false,"zero":false,"padding":0},"axis":{"values":[-1,0,1,2]}},"x2":{"field":"b"},"y":{"field":"q","type":"quantitative","scale":{"domain":[-2,1],"nice":false,"zero":false,"padding":0},"axis":{"values":[-2,-1.5,-1,-0.5,0,0.5,1],"format":".1f"}},"color":{"field":"v","type":"quantitative","legend":null,"scale":{"type":"threshold","domain":[-12.5,-12,-11.5,-11,-10.5,-10,-9.5,-9,-8.5,-8,-7.5],"range":["#440154","#482173","#433e85","#38598c","#2d708e","#25858e","#1e9b8a","#2ab07f","#51c56a","#85d54a","#c2df23","#fde725"]}}},
"layer":[{"mark":{"type":"bar","orient":"horizontal","size":14}},{"transform":[{"filter":"!datum.n"}],"mark":{"type":"area","orient":"horizontal"},"encoding":{"detail":{"field":"v"}}}]},
{"width":18,"height":389,"data":{"name":"bar"},"mark":{"type":"rect"},"encoding":{"y":{"field":"v","type":"quantitative","scale":{"domain":[-13,-7],"nice":false,"zero":false},"axis":{"orient":"right","values":[-13,-12,-11,-10,-9,-8,-7],"format":"d"}},"y2":{"field":"e"},"color":{"field":"v","type":"quantitative","legend":null,"scale":{"type":"threshold","domain":[-12.5,-12,-11.5,-11,-10.5,-10,-9.5,-9,-8.5,-8,-7.5],"range":["#440154","#482173","#433e85","#38598c","#2d708e","#25858e","#1e9b8a","#2ab07f","#51c56a","#85d54a","#c2df23","#fde725"]}}}}
],"spacing":27,"bounds":"flush"}
],"spacing":79,"bounds":"flush"},
{"hconcat":[
{"width":2,"height":1,"view":{"stroke":null},"data":{"values":[]},"mark":{"type":"point"},"encoding":{}},
{"width":419,"height":388,"data":{"name":"p3"},"encoding":{"x":{"field":"a","type":"quantitative","scale":{"domain":[-1.49,2.51],"nice":false,"zero":false,"padding":0},"axis":{"values":[-1,0,1,2]}},"x2":{"field":"b"},"y":{"field":"q","type":"quantitative","scale":{"domain":[-2,1],"nice":false,"zero":false,"padding":0},"axis":{"values":[-2,-1.5,-1,-0.5,0,0.5,1],"format":".1f"}},"color":{"field":"v","type":"quantitative","legend":null,"scale":{"type":"threshold","domain":[-12.5,-12,-11.5,-11,-10.5,-10,-9.5,-9,-8.5,-8,-7.5],"range":["#440154","#482173","#433e85","#38598c","#2d708e","#25858e","#1e9b8a","#2ab07f","#51c56a","#85d54a","#c2df23","#fde725"]}}},
"layer":[{"mark":{"type":"bar","orient":"horizontal","size":14}},{"transform":[{"filter":"!datum.n"}],"mark":{"type":"area","orient":"horizontal"},"encoding":{"detail":{"field":"v"}}}]},
{"width":653,"height":388,"view":{"stroke":null},
"encoding":{"x":{"field":"a","type":"quantitative","scale":{"domain":[555,1208],"nice":false,"zero":false},"axis":null},"y":{"field":"q","type":"quantitative","scale":{"domain":[933,545],"nice":false,"zero":false},"axis":null},"text":{"field":"t"}},
"layer":[
{"data":{"values":[{"a":310,"q":50,"t":"Autoconversion rate ("},{"a":881,"q":50,"t":")"}]},"mark":{"type":"text","align":"left","baseline":"alphabetic","font":"Liberation Sans","fontSize":53,"fill":"#222"}},
{"data":{"values":[{"a":816,"q":50,"t":"Au"}]},"mark":{"type":"text","align":"left","baseline":"alphabetic","font":"Liberation Sans","fontStyle":"italic","fontSize":53,"fill":"#222"}},
{"data":{"values":[{"a":160,"q":128,"t":"Explicit"},{"a":652,"q":128,"t":"Old parameterization"},{"a":142,"q":598,"t":"New parameterization"}]},"mark":{"type":"text","align":"left","baseline":"alphabetic","font":"Liberation Sans","fontSize":42.5,"fill":"#222"}},
{"data":{"values":[{"a":658,"q":180,"t":"Au~"},{"a":767,"q":180,"t":"q"},{"a":818,"q":180,"t":"n"},{"a":166,"q":653,"t":"Au~"},{"a":274,"q":653,"t":"q"},{"a":322,"q":653,"t":"n"}]},"mark":{"type":"text","align":"left","baseline":"alphabetic","font":"Liberation Serif","fontStyle":"italic","fontWeight":"bold","fontSize":50,"fill":"#000"}},
{"data":{"values":[{"a":792,"q":190,"t":"c"},{"a":850,"q":162,"t":"−b"},{"a":848,"q":190,"t":"c"},{"a":302,"q":662,"t":"c"},{"a":356,"q":635,"t":"−b"},{"a":356,"q":662,"t":"c"}]},"mark":{"type":"text","align":"left","baseline":"alphabetic","font":"Liberation Serif","fontStyle":"italic","fontWeight":"bold","fontSize":36,"fill":"#000"}},
{"data":{"values":[{"a":792,"q":165,"t":"a"},{"a":302,"q":635,"t":"a"}]},"mark":{"type":"text","align":"left","baseline":"alphabetic","font":"Liberation Serif","fontWeight":"bold","fontSize":36,"fill":"#000"}},
{"data":{"values":[{"a":404,"q":653,"t":"n"}]},"mark":{"type":"text","align":"left","baseline":"alphabetic","font":"Liberation Serif","fontStyle":"italic","fontWeight":"bold","fontSize":50,"fill":"#c00000"}},
{"data":{"values":[{"a":432,"q":662,"t":"r"}]},"mark":{"type":"text","align":"left","baseline":"alphabetic","font":"Liberation Serif","fontStyle":"italic","fontWeight":"bold","fontSize":36,"fill":"#c00000"}},
{"data":{"values":[{"a":434,"q":636,"t":"c"}]},"mark":{"type":"text","align":"left","baseline":"alphabetic","font":"Liberation Serif","fontWeight":"bold","fontSize":36,"fill":"#c00000"}},
{"data":{"values":[{"a":711,"q":537,"t":"log"},{"a":788,"q":537,"t":"(n"},{"a":834,"q":537,"t":"[cm"},{"a":916,"q":537,"t":"])"},{"a":234,"q":1004,"t":"log"},{"a":311,"q":1004,"t":"(n"},{"a":357,"q":1004,"t":"[cm"},{"a":439,"q":1004,"t":"])"}]},"mark":{"type":"text","align":"left","baseline":"alphabetic","font":"Liberation Sans","fontStyle":"italic","fontSize":37,"fill":"#222"}},
{"data":{"values":[{"a":760,"q":544,"t":"10"},{"a":821,"q":544,"t":"c"},{"a":283,"q":1011,"t":"10"},{"a":344,"q":1011,"t":"c"},{"a":894,"q":522,"t":"-3"},{"a":417,"q":989,"t":"-3"}]},"mark":{"type":"text","align":"left","baseline":"alphabetic","font":"Liberation Sans","fontStyle":"italic","fontSize":25,"fill":"#222"}},
{"data":{"values":[{"a":60,"q":398,"t":"log"},{"a":60,"q":321,"t":"(q"},{"a":60,"q":275,"t":"[g/kg])"},{"a":60,"q":862,"t":"log"},{"a":60,"q":785,"t":"(q"},{"a":60,"q":739,"t":"[g/kg])"}]},"mark":{"type":"text","align":"left","baseline":"alphabetic","angle":270,"font":"Liberation Sans","fontStyle":"italic","fontSize":37,"fill":"#222"}},
{"data":{"values":[{"a":67,"q":349,"t":"10"},{"a":67,"q":288,"t":"c"},{"a":67,"q":813,"t":"10"},{"a":67,"q":752,"t":"c"}]},"mark":{"type":"text","align":"left","baseline":"alphabetic","angle":270,"font":"Liberation Sans","fontStyle":"italic","fontSize":25,"fill":"#222"}},
{"data":{"values":[{"a":1158,"q":95,"t":"log"}]},"mark":{"type":"text","align":"left","baseline":"alphabetic","angle":90,"font":"Liberation Sans","fontStyle":"italic","fontSize":40,"fill":"#555"}},
{"data":{"values":[{"a":1158,"q":182,"t":"(Au)"}]},"mark":{"type":"text","align":"left","baseline":"alphabetic","angle":90,"font":"Liberation Sans","fontStyle":"italic","fontSize":32,"fill":"#555"}},
{"data":{"values":[{"a":1151,"q":151,"t":"10"}]},"mark":{"type":"text","align":"left","baseline":"alphabetic","angle":90,"font":"Liberation Sans","fontStyle":"italic","fontSize":25,"fill":"#555"}},
{"data":{"values":[{"a":635,"q":648,"t":"Old scheme can be tuned only"},{"a":635,"q":692,"t":"for a narrow range of"},{"a":1066,"q":692,"t":"and"},{"a":635,"q":814,"t":"New scheme may be tuned"},{"a":635,"q":859,"t":"over a broad range of cloud"},{"a":635,"q":903,"t":"properties"}]},"mark":{"type":"text","align":"left","baseline":"alphabetic","font":"Liberation Sans","fontWeight":"bold","fontSize":37,"fill":"#d07000"}},
{"data":{"values":[{"a":1019,"q":692,"t":"n"},{"a":1144,"q":692,"t":"q"}]},"mark":{"type":"text","align":"left","baseline":"alphabetic","font":"Liberation Sans","fontWeight":"bold","fontStyle":"italic","fontSize":37,"fill":"#d07000"}},
{"data":{"values":[{"a":1041,"q":699,"t":"c"},{"a":1166,"q":699,"t":"c"}]},"mark":{"type":"text","align":"left","baseline":"alphabetic","font":"Liberation Sans","fontWeight":"bold","fontStyle":"italic","fontSize":23,"fill":"#d07000"}},
{"data":{"values":[{"a":818,"q":582}]},"mark":{"type":"point","filled":true,"size":2500,"fill":"#a33b1c","stroke":"#6f2410","strokeWidth":1.5,"opacity":1,"shape":"M0,-0.96 L0.66,-0.16 L0.32,-0.16 L0.32,0.96 L-0.32,0.96 L-0.32,-0.16 L-0.66,-0.16Z"}},
{"data":{"values":[{"a":597,"q":836}]},"mark":{"type":"point","filled":true,"size":2500,"fill":"#a33b1c","stroke":"#6f2410","strokeWidth":1.5,"opacity":1,"shape":"M-1,0 L-0.28,-0.64 L-0.28,-0.32 L1,-0.32 L1,0.32 L-0.28,0.32 L-0.28,0.64Z"}}
]}
],"spacing":0,"bounds":"flush"}
]}
